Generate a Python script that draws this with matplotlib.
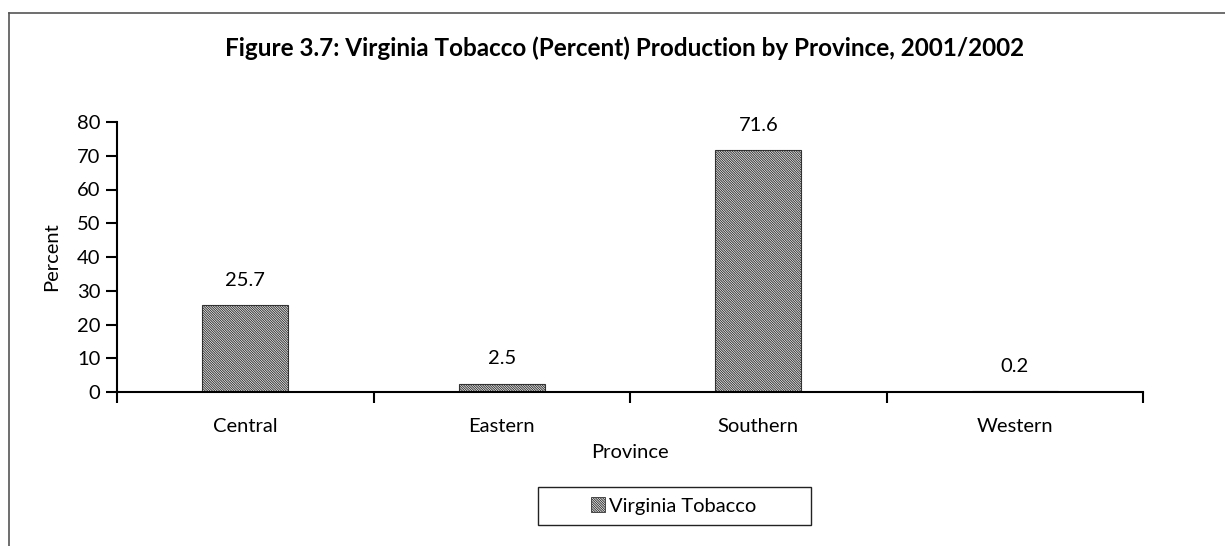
"""Virginia tobacco production share by province, 2001/2002."""

import matplotlib.pyplot as plt
from matplotlib.lines import Line2D
from matplotlib.patches import Patch, Rectangle

provinces = ["Central", "Eastern", "Southern", "Western"]
percent = [25.7, 2.5, 71.6, 0.2]
series_name = "Virginia Tobacco"
y_ticks = [0, 10, 20, 30, 40, 50, 60, 70, 80]

plt.rcParams["font.family"] = ["Lato", "DejaVu Sans"]
plt.rcParams["hatch.linewidth"] = 0.7
plt.rcParams["hatch.color"] = "#222222"

HATCH = "\\" * 14
FS = 14.5

fig = plt.figure(figsize=(12.25, 5.46), dpi=100)
ax = fig.add_axes([117 / 1225, 1 - 392 / 546, (1143 - 117) / 1225, (392 - 122) / 546])

x = list(range(len(provinces)))
bars = ax.bar(
    x,
    percent,
    width=0.335,
    color="white",
    edgecolor="#333333",
    linewidth=0.8,
    hatch=HATCH,
    label=series_name,
)

for rect, value in zip(bars, percent):
    ax.annotate(
        f"{value:.1f}",
        (rect.get_x() + rect.get_width() / 2, rect.get_height()),
        xytext=(0, 12),
        textcoords="offset points",
        ha="center",
        va="bottom",
        fontsize=FS,
    )

ax.set_xlim(-0.5, len(provinces) - 0.5)
ax.set_ylim(0, 80)
ax.set_yticks(y_ticks)
ax.set_xticks(x)
ax.set_xticklabels(provinces)
ax.set_xticks([i - 0.5 for i in range(len(provinces) + 1)], minor=True)
ax.tick_params(axis="x", which="major", length=0, pad=19, labelsize=FS)
ax.tick_params(axis="x", which="minor", length=8, width=1.5, direction="out")
ax.tick_params(axis="y", length=8, width=1.5, direction="out", labelsize=FS, pad=4)

for side in ["top", "right"]:
    ax.spines[side].set_visible(False)
for side in ["left", "bottom"]:
    ax.spines[side].set_linewidth(1.5)

ax.set_ylabel("Percent", fontsize=FS, labelpad=12)
ax.set_xlabel("Province", fontsize=FS, labelpad=6)

fig.text(
    625 / 1225,
    1 - 48 / 546,
    "Figure 3.7: Virginia Tobacco (Percent) Production by Province, 2001/2002",
    ha="center",
    va="center",
    fontsize=17.5,
    fontweight="bold",
)

handle = Patch(facecolor="white", edgecolor="#333333", hatch=HATCH, linewidth=0.6)
fig.legend(
    [handle],
    [series_name],
    loc="center",
    bbox_to_anchor=(674 / 1225, 1 - 506 / 546),
    frameon=False,
    fontsize=FS,
    handlelength=0.7,
    handleheight=0.7,
    handletextpad=0.2,
    borderpad=0,
    borderaxespad=0,
)
# legend box, wider than the entry as in the source chart
fig.add_artist(
    Rectangle(
        (538 / 1225, 1 - 525 / 546),
        (811 - 538) / 1225,
        (525 - 487) / 546,
        transform=fig.transFigure,
        facecolor="none",
        edgecolor="#222222",
        linewidth=1.0,
    )
)

# outer chart frame (left and top edges only are in view)
fig.add_artist(Line2D([9 / 1225, 9 / 1225], [0, 1 - 13 / 546], color="#555555", linewidth=1.2))
fig.add_artist(Line2D([9 / 1225, 1], [1 - 13 / 546, 1 - 13 / 546], color="#555555", linewidth=1.2))

fig.savefig("out.png", dpi=100)
